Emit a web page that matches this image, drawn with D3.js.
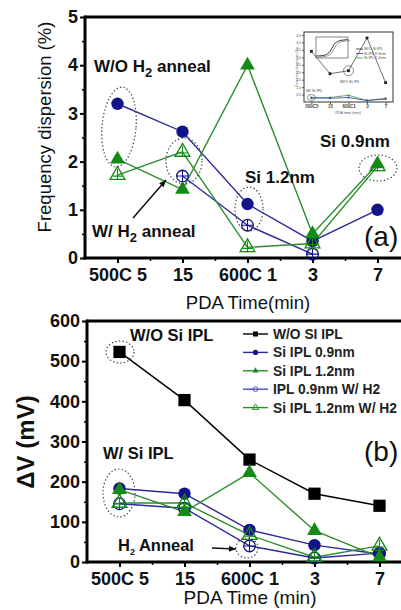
<!DOCTYPE html>
<html><head><meta charset="utf-8">
<script src="https://cdn.jsdelivr.net/npm/d3@7"></script>
<style>body{margin:0;background:#fff;} svg{display:block;}</style>
</head><body><svg id="c" width="401" height="610"></svg>
<script>
// ---- data ----
const categories = ["500C 5", "15", "600C 1", "3", "7"];
// (a) frequency dispersion (%)
const topSi09   = [3.2, 2.62, 1.12, 0.35, 1.0];
const topSi12   = [2.05, 1.42, 4.0, 0.5, 1.95];
const topSi09H2 = [null, 1.7, 0.68, 0.08, null];
const topSi12H2 = [1.72, 2.2, 0.22, 0.3, 1.9];
const topTicks  = [0, 1, 2, 3, 4, 5];
// (b) delta V (mV)
const botNoSi   = [523, 403, 255, 170, 140];
const botSi09   = [183, 170, 80, 42, 20];
const botSi12   = [180, 125, 222, 78, 12];
const botSi09H2 = [145, 134, 40, 10, 22];
const botSi12H2 = [147, 147, 67, 12, 40];
const botTicks  = [0, 100, 200, 300, 400, 500, 600];
const legendLabels = ["W/O SI IPL", "Si IPL 0.9nm", "Si IPL 1.2nm", "IPL 0.9nm W/ H2", "Si IPL 1.2nm W/ H2"];
// inset
const insetNoSi = [3.4, 1.9, 2.1, 4.3, 1.3];
const insetSi09 = [0.3, 0.25, 0.3, 0.1, 0.2];
const insetSi12 = [0.25, 0.3, 0.45, 0.1, 0.25];
const insetTicks = [0.5, 1, 1.5, 2, 2.5, 3, 3.5, 4, 4.5];
const insetCurve = [[0,0.1],[0.3,0.12],[0.45,0.3],[0.55,0.7],[0.7,0.88],[1,0.92]];

const svg = d3.select("#c");
const FONT = "'Liberation Sans', Arial, Helvetica, sans-serif";
const BLUE = "#13138a", BLUEL = "#2a2a9c", GREEN = "#168a16", GREENL = "#2d8d2d";

function symbolPath(type, size) {
  return d3.symbol().type(type).size(size)();
}

function drawPanel(g, x, y, ticks, minorTicks, series, opts) {
  const yAx = g.append("g").attr("transform", `translate(${x.range()[0]},0)`)
    .call(d3.axisLeft(y).tickValues(ticks).tickSize(5).tickPadding(2).tickFormat(d3.format("d")));
  yAx.select(".domain").remove();
  yAx.selectAll("text").attr("font-family", FONT).attr("font-size", opts.tickFont).attr("font-weight", "bold").attr("fill", "#111");
  yAx.selectAll("line").attr("stroke-width", 2);
  const yAxm = g.append("g").attr("transform", `translate(${x.range()[0]},0)`)
    .call(d3.axisLeft(y).tickValues(minorTicks).tickSize(3).tickFormat(""));
  yAxm.select(".domain").remove();
  yAxm.selectAll("line").attr("stroke-width", 1.5);

  const xAx = g.append("g").attr("transform", `translate(0,${y.range()[0]})`)
    .call(d3.axisBottom(x).tickValues([0,1,2,3,4]).tickSize(5).tickPadding(5).tickFormat(i => categories[i]));
  xAx.select(".domain").remove();
  xAx.selectAll("text").attr("font-family", FONT).attr("font-size", opts.tickFont).attr("font-weight", "bold").attr("fill", "#111");
  xAx.selectAll("line").attr("stroke-width", 2);
  const xAxm = g.append("g").attr("transform", `translate(0,${y.range()[0]})`)
    .call(d3.axisBottom(x).tickValues([0.5,1.5,2.5,3.5]).tickSize(3).tickFormat(""));
  xAxm.select(".domain").remove();
  xAxm.selectAll("line").attr("stroke-width", 1.5);

  const [x0, x1] = x.range(), [yb, yt] = y.range();
  g.append("line").attr("x1", x0).attr("x2", x1).attr("y1", yt).attr("y2", yt).attr("stroke", "#000").attr("stroke-width", 3);
  g.append("line").attr("x1", x0).attr("x2", x0).attr("y1", yt - 1.5).attr("y2", yb + 1.5).attr("stroke", "#000").attr("stroke-width", 3);
  g.append("line").attr("x1", x0 - 1.5).attr("x2", x1).attr("y1", yb).attr("y2", yb).attr("stroke", "#000").attr("stroke-width", 3);

  const line = d3.line().defined(d => d[1] != null).x(d => x(d[0])).y(d => y(d[1]));
  series.forEach(s => {
    const pts = s.values.map((v, i) => [i, v]);
    g.append("path").attr("d", line(pts)).attr("fill", "none").attr("stroke", s.line).attr("stroke-width", 1.4);
  });
  series.forEach(s => {
    s.values.forEach((v, i) => {
      if (v == null) return;
      const cx = x(i), cy = y(v);
      const m = g.append("g").attr("transform", `translate(${cx},${cy})`);
      if (s.marker === "circle") {
        m.append("circle").attr("r", 6.2).attr("fill", s.color);
      } else if (s.marker === "square") {
        m.append("path").attr("d", symbolPath(d3.symbolSquare, 150)).attr("fill", s.color);
      } else if (s.marker === "triangle") {
        m.append("path").attr("d", symbolPath(d3.symbolTriangle, 95)).attr("fill", s.color);
      } else if (s.marker === "ocircle") {
        m.append("circle").attr("r", 5.8).attr("fill", "none").attr("stroke", s.color).attr("stroke-width", 1.3);
        m.append("path").attr("d", "M-5.8,0H5.8M0,-5.8V5.8").attr("stroke", s.color).attr("stroke-width", 1.1);
      } else if (s.marker === "otriangle") {
        m.append("path").attr("d", symbolPath(d3.symbolTriangle, 95)).attr("fill", "none").attr("stroke", s.color).attr("stroke-width", 1.3);
        m.append("path").attr("d", "M-5,1H5M0,-6V5").attr("stroke", s.color).attr("stroke-width", 1.1);
      }
    });
  });
}

function ellipse(g, cx, cy, rx, ry, rot) {
  g.append("ellipse").attr("cx", 0).attr("cy", 0).attr("rx", rx).attr("ry", ry)
    .attr("transform", `translate(${cx},${cy}) rotate(${rot || 0})`)
    .attr("fill", "none").attr("stroke", "#444").attr("stroke-width", 1.2).attr("stroke-dasharray", "1.4,2.2");
}
function label(g, x, y, parts, size) {
  const t = g.append("text").attr("x", x).attr("y", y).attr("font-family", FONT)
    .attr("font-size", size).attr("font-weight", "bold").attr("fill", "#111");
  parts.forEach(p => {
    if (typeof p === "string") t.append("tspan").text(p);
    else t.append("tspan").attr("dy", p.dy).attr("font-size", p.size).text(p.t);
  });
  return t;
}
function arrow(g, x1, y1, x2, y2) {
  g.append("line").attr("x1", x1).attr("y1", y1).attr("x2", x2).attr("y2", y2)
    .attr("stroke", "#111").attr("stroke-width", 1.5);
  const a = Math.atan2(y2 - y1, x2 - x1), L = 7, W = 3;
  const p = [[x2, y2],
    [x2 - L * Math.cos(a) + W * Math.sin(a), y2 - L * Math.sin(a) - W * Math.cos(a)],
    [x2 - L * Math.cos(a) - W * Math.sin(a), y2 - L * Math.sin(a) + W * Math.cos(a)]];
  g.append("path").attr("d", "M" + p.join("L") + "Z").attr("fill", "#111");
}

// ---------- panel (a) ----------
const gA = svg.append("g");
const xA = d3.scaleLinear().domain([-0.5, 4.5]).range([85, 410]);
const yA = d3.scaleLinear().domain([0, 5]).range([258, 17]);
drawPanel(gA, xA, yA, topTicks, [0.5,1.5,2.5,3.5,4.5], [
  { values: topSi09,   color: BLUE,  line: BLUEL,  marker: "circle" },
  { values: topSi09H2, color: BLUE,  line: BLUEL,  marker: "ocircle" },
  { values: topSi12,   color: GREEN, line: GREENL, marker: "triangle" },
  { values: topSi12H2, color: GREEN, line: GREENL, marker: "otriangle" }
], { tickFont: 18 });

gA.append("text").attr("transform", "translate(51,127) rotate(-90)").attr("text-anchor", "middle")
  .attr("font-family", FONT).attr("font-size", 18.5).attr("fill", "#111").text("Frequency dispersion (%)");
gA.append("text").attr("x", 248).attr("y", 309).attr("text-anchor", "middle")
  .attr("font-family", FONT).attr("font-size", 18.5).attr("fill", "#111").text("PDA Time(min)");

label(gA, 94, 72, ["W/O H", {t: "2", dy: 5, size: 13}, {t: " anneal", dy: -5, size: 17}], 17);
label(gA, 92, 237, ["W/ H", {t: "2", dy: 5, size: 13}, {t: " anneal", dy: -5, size: 17}], 17);
label(gA, 245, 183, ["Si 1.2nm"], 17);
label(gA, 320, 147, ["Si 0.9nm"], 17);
gA.append("text").attr("x", 364).attr("y", 246).attr("font-family", FONT).attr("font-size", 28).attr("fill", "#111").text("(a)");
ellipse(gA, 119, 127, 17, 40, 5);
ellipse(gA, 184, 161, 18, 23, 0);
ellipse(gA, 249, 209, 14, 22, 0);
ellipse(gA, 378, 168, 19, 13, 0);
arrow(gA, 133, 218, 166, 180);

// inset
const gI = svg.append("g");
const xI = d3.scaleLinear().domain([-0.4, 4.4]).range([304, 393]);
const yI = d3.scaleLinear().domain([0, 4.7]).range([102, 32]);
gI.append("rect").attr("x", 304).attr("y", 32).attr("width", 89).attr("height", 70).attr("fill", "#fff").attr("stroke", "#333").attr("stroke-width", 1);
const yIa = gI.append("g").attr("transform", "translate(304,0)").call(d3.axisLeft(yI).tickValues(insetTicks).tickSize(2).tickPadding(1));
yIa.select(".domain").remove();
yIa.selectAll("text").attr("font-size", 3.5).attr("font-family", FONT).attr("fill", "#555");
yIa.selectAll("line").attr("stroke", "#555");
const xIa = gI.append("g").attr("transform", "translate(0,102)").call(d3.axisBottom(xI).tickValues([0,1,2,3,4]).tickSize(2).tickPadding(1).tickFormat(i => categories[i].replace(" ", "")));
xIa.select(".domain").remove();
xIa.selectAll("text").attr("font-size", 4.5).attr("font-family", FONT).attr("font-weight", "bold").attr("fill", "#444");
xIa.selectAll("line").attr("stroke", "#555");
gI.append("text").attr("x", 348).attr("y", 114).attr("text-anchor", "middle").attr("font-size", 3.8).attr("font-family", FONT).attr("fill", "#555").text("PDA time (min)");
gI.append("text").attr("transform", "translate(298,67) rotate(-90)").attr("text-anchor", "middle").attr("font-size", 3.5).attr("font-family", FONT).attr("fill", "#666").text("Frequency dispersion (%)");
const lineI = d3.line().x(d => xI(d[0])).y(d => yI(d[1]));
[[insetSi12, "#3c9a3c"], [insetSi09, "#3a3aa8"]].forEach(([vals, c]) => {
  gI.append("path").attr("d", lineI(vals.map((v, i) => [i, v]))).attr("fill", "none").attr("stroke", c).attr("stroke-width", 0.8);
  vals.forEach((v, i) => gI.append("circle").attr("cx", xI(i)).attr("cy", yI(v)).attr("r", 1).attr("fill", c));
});
gI.append("path").attr("d", lineI(insetNoSi.map((v, i) => [i, v]))).attr("fill", "none").attr("stroke", "#333").attr("stroke-width", 0.7);
insetNoSi.forEach((v, i) => gI.append("rect").attr("x", xI(i) - 1.4).attr("y", yI(v) - 1.4).attr("width", 2.8).attr("height", 2.8).attr("fill", "#222"));
const cxS = d3.scaleLinear().domain([0, 1]).range([316, 348]);
const cyS = d3.scaleLinear().domain([0, 1]).range([58, 38]);
gI.append("rect").attr("x", 316).attr("y", 37).attr("width", 32).attr("height", 21).attr("fill", "none").attr("stroke", "#333").attr("stroke-width", 0.6);
gI.append("path").attr("d", d3.line().curve(d3.curveBasis).x(d => cxS(d[0])).y(d => cyS(d[1]))(insetCurve)).attr("fill", "none").attr("stroke", "#222").attr("stroke-width", 0.9);
gI.append("path").attr("d", d3.line().curve(d3.curveBasis).x(d => cxS(d[0]) + 2).y(d => cyS(d[1]) + 1)(insetCurve)).attr("fill", "none").attr("stroke", "#555").attr("stroke-width", 0.6);
[["W/O Si IPL", "#222"], ["Si IPL 0.9nm", "#3a3aa8"], ["Si IPL 1.2nm", "#3c9a3c"]].forEach((d, i) => {
  const yy = 49 + i * 4.5;
  gI.append("line").attr("x1", 356).attr("x2", 363).attr("y1", yy).attr("y2", yy).attr("stroke", d[1]).attr("stroke-width", 0.8);
  gI.append("text").attr("x", 364).attr("y", yy + 1.3).attr("font-size", 3.8).attr("font-family", FONT).attr("fill", "#444").text(d[0]);
});
gI.append("circle").attr("cx", xI(2)).attr("cy", yI(2.1)).attr("r", 5).attr("fill", "none").attr("stroke", "#444").attr("stroke-width", 0.6);
gI.append("text").attr("x", 340).attr("y", 83).attr("font-size", 4).attr("font-family", FONT).attr("fill", "#444").text("W/O Si IPL");
gI.append("text").attr("x", 306).attr("y", 92).attr("font-size", 4).attr("font-family", FONT).attr("fill", "#444").text("W/ Si IPL");
gI.append("ellipse").attr("cx", xI(0)).attr("cy", yI(0.3)).attr("rx", 4).attr("ry", 3).attr("fill", "none").attr("stroke", "#444").attr("stroke-width", 0.6);

// ---------- panel (b) ----------
const gB = svg.append("g");
const xB = d3.scaleLinear().domain([-0.5, 4.5]).range([87, 412]);
const yB = d3.scaleLinear().domain([0, 600]).range([562, 321]);
drawPanel(gB, xB, yB, botTicks, [50,150,250,350,450,550], [
  { values: botNoSi,   color: "#000", line: "#000", marker: "square" },
  { values: botSi09,   color: BLUE,  line: BLUEL,  marker: "circle" },
  { values: botSi09H2, color: BLUE,  line: BLUEL,  marker: "ocircle" },
  { values: botSi12,   color: GREEN, line: GREENL, marker: "triangle" },
  { values: botSi12H2, color: GREEN, line: GREENL, marker: "otriangle" }
], { tickFont: 18 });

gB.append("text").attr("transform", "translate(34,442) rotate(-90)").attr("text-anchor", "middle")
  .attr("font-family", FONT).attr("font-size", 24).attr("font-weight", "bold").attr("fill", "#111").text("\u0394V (mV)");
gB.append("text").attr("x", 250).attr("y", 604).attr("text-anchor", "middle")
  .attr("font-family", FONT).attr("font-size", 19).attr("fill", "#111").text("PDA Time (min)");

label(gB, 130, 341, ["W/O Si IPL"], 16.5);
label(gB, 103, 459, ["W/ Si IPL"], 16.5);
label(gB, 118, 551, ["H", {t: "2", dy: 4, size: 9}, {t: " Anneal", dy: -4, size: 16.5}], 16.5);
gB.append("text").attr("x", 364).attr("y", 461).attr("font-family", FONT).attr("font-size", 28).attr("fill", "#111").text("(b)");
ellipse(gB, 120, 352, 14, 11, 0);
ellipse(gB, 119, 493, 16, 24, 0);
ellipse(gB, 247, 548, 11, 10, 0);
arrow(gB, 212, 548, 236, 549);

const legMarkers = [["square", "#000", "#000"], ["circle", BLUE, BLUEL], ["triangle", GREEN, GREENL], ["ocircle", "#4a4ab8", "#4a4ab8"], ["otriangle", GREEN, GREENL]];
legendLabels.forEach((t, i) => {
  const yy = 334 + i * 18.4;
  const [mk, c, lc] = legMarkers[i];
  gB.append("line").attr("x1", 243).attr("x2", 268).attr("y1", yy).attr("y2", yy).attr("stroke", lc).attr("stroke-width", 1.4);
  const m = gB.append("g").attr("transform", `translate(255.5,${yy})`);
  if (mk === "square") m.append("rect").attr("x", -2.5).attr("y", -2.5).attr("width", 5).attr("height", 5).attr("fill", c);
  else if (mk === "circle") m.append("circle").attr("r", 2.6).attr("fill", c);
  else if (mk === "triangle") m.append("path").attr("d", symbolPath(d3.symbolTriangle, 16)).attr("fill", c);
  else if (mk === "ocircle") m.append("circle").attr("r", 2.4).attr("fill", "none").attr("stroke", c).attr("stroke-width", 0.9);
  else m.append("path").attr("d", symbolPath(d3.symbolTriangle, 18)).attr("fill", "none").attr("stroke", c).attr("stroke-width", 0.9);
  gB.append("text").attr("x", 273).attr("y", yy + 5).attr("font-family", FONT).attr("font-size", 13.8).attr("font-weight", "bold").attr("fill", "#222").text(t);
});
</script></body></html>
